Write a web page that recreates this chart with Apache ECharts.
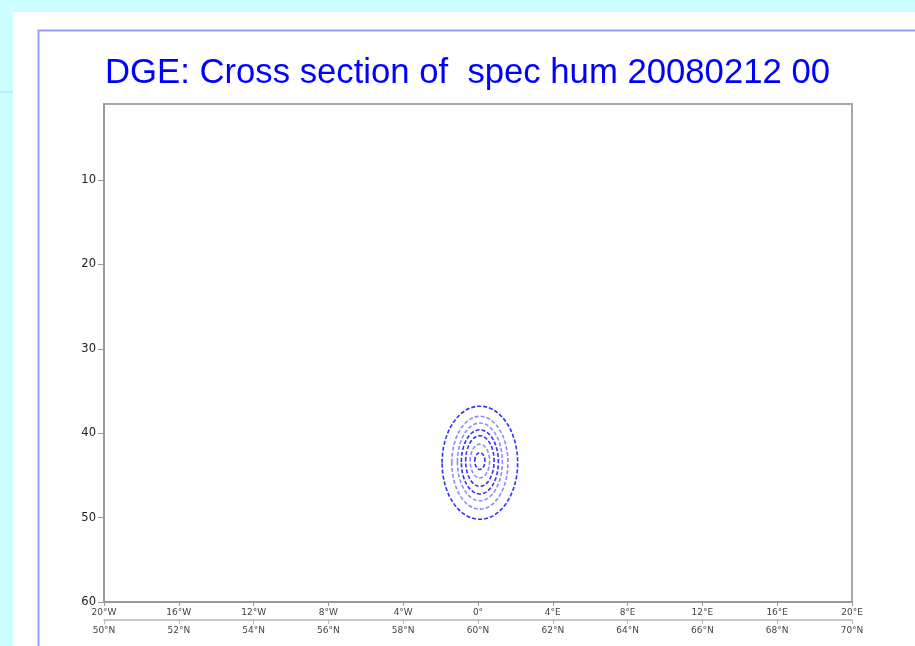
<!DOCTYPE html>
<html>
<head>
<meta charset="utf-8">
<script src="https://cdn.jsdelivr.net/npm/echarts@6/dist/echarts.min.js"></script>
<style>
  html, body { margin: 0; padding: 0; background: #ccffff; }
  #chart { width: 915px; height: 646px; }
</style>
</head>
<body>
<div id="chart"></div>
<script>
// axis values / labels
const lonTicks = [-20, -16, -12, -8, -4, 0, 4, 8, 12, 16, 20];
const lonLabels = ['20°W', '16°W', '12°W', '8°W', '4°W', '0°', '4°E', '8°E', '12°E', '16°E', '20°E'];
const latTicks = [50, 52, 54, 56, 58, 60, 62, 64, 66, 68, 70];
const latLabels = ['50°N', '52°N', '54°N', '56°N', '58°N', '60°N', '62°N', '64°N', '66°N', '68°N', '70°N'];
const levelTicks = [10, 20, 30, 40, 50, 60];

// contour rings of spec hum (centre lon, centre level, half width in deg, half depth in levels)
const ringLon = [0.1, 0.1, 0.1, 0.1, 0.1, 0.1, 0.1];
const ringLev = [43.5, 43.5, 43.4, 43.4, 43.3, 43.3, 43.3];
const ringHalfLon = [2.02, 1.5, 1.2, 0.99, 0.76, 0.52, 0.27];
const ringHalfLev = [6.7, 5.5, 4.6, 3.8, 3.0, 2.0, 1.0];

const ringData = ringLon.map((lon, i) => [lon, ringLev[i], ringHalfLon[i], ringHalfLev[i]]);
const darkRings = [0, 3, 4, 6];

const chart = echarts.init(document.getElementById('chart'));

const option = {
    backgroundColor: 'transparent',
    animation: false,
    graphic: [
        { type: 'rect', shape: { x: 13, y: 12, width: 902, height: 634 }, style: { fill: '#ffffff' }, z: -10 },
        { type: 'line', shape: { x1: 0, y1: 92, x2: 13, y2: 92 }, style: { stroke: '#a8d8ff', lineWidth: 1 }, z: -10 },
        { type: 'polyline', shape: { points: [[38.5, 646], [38.5, 30.5], [915, 30.5]] }, style: { stroke: '#9a9aff', lineWidth: 2, fill: null }, z: -5 }
    ],
    title: {
        text: 'DGE: Cross section of  spec hum 20080212 00',
        left: 100,
        top: 51,
        textStyle: { color: '#0000ff', fontSize: 34.7, fontWeight: 'normal', fontFamily: 'Liberation Sans' }
    },
    grid: {
        left: 104, right: 63, top: 104, bottom: 44,
        show: true, borderColor: '#a8a8a8', borderWidth: 2, backgroundColor: '#ffffff'
    },
    xAxis: [
        {
            type: 'value', position: 'bottom', min: -20, max: 20, interval: 4,
            axisLine: { show: true, onZero: false, lineStyle: { color: '#999999', width: 2 } },
            axisTick: { show: true, length: 4, lineStyle: { color: '#999999' } },
            axisLabel: {
                margin: 6, fontSize: 9, color: '#444', fontFamily: 'DejaVu Sans',
                formatter: v => lonLabels[lonTicks.indexOf(v)]
            },
            splitLine: { show: false }
        },
        {
            type: 'value', position: 'bottom', offset: 18, min: 50, max: 70, interval: 2,
            axisLine: { show: true, onZero: false, lineStyle: { color: '#b4b4b4', width: 1.5 } },
            axisTick: { show: true, length: 4, lineStyle: { color: '#b4b4b4' } },
            axisLabel: {
                margin: 6, fontSize: 9, color: '#444', fontFamily: 'DejaVu Sans',
                formatter: v => latLabels[latTicks.indexOf(v)]
            },
            splitLine: { show: false }
        }
    ],
    yAxis: {
        type: 'value', inverse: true, min: 1, max: 60, position: 'left',
        axisLine: { show: true, onZero: false, lineStyle: { color: '#999999', width: 2 } },
        axisTick: { show: true, length: 6, customValues: levelTicks, lineStyle: { color: '#999999' } },
        axisLabel: { margin: 8, fontSize: 11.5, color: '#222', fontFamily: 'DejaVu Sans', customValues: levelTicks },
        splitLine: { show: false }
    },
    series: [{
        type: 'custom',
        xAxisIndex: 0,
        data: ringData,
        renderItem: function (params, api) {
            const c = api.coord([api.value(0), api.value(1)]);
            const s = api.size([api.value(2), api.value(3)]);
            const dark = darkRings.indexOf(params.dataIndex) >= 0;
            return {
                type: 'ellipse',
                shape: { cx: c[0], cy: c[1], rx: s[0], ry: s[1] },
                style: {
                    fill: null,
                    stroke: dark ? '#3030ff' : '#8c8cff',
                    lineWidth: 1.6,
                    lineDash: [4, 2]
                }
            };
        }
    }]
};

chart.setOption(option);
</script>
</body>
</html>
